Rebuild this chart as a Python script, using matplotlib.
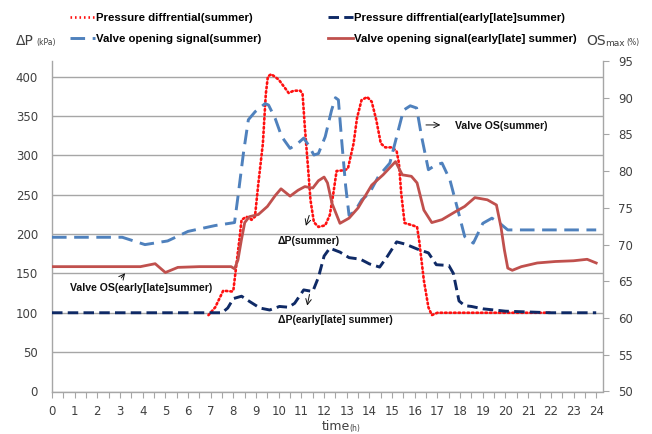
import matplotlib
matplotlib.use("Agg")
import matplotlib.pyplot as plt
from matplotlib.lines import Line2D

# ---- data ----
hours_ticks = list(range(0, 25))
left_ticks = [0, 50, 100, 150, 200, 250, 300, 350, 400]
right_ticks = [50, 55, 60, 65, 70, 75, 80, 85, 90, 95]

# Pressure differential (summer) [kPa]
dp_sum_h = [6.9, 7.2, 7.55, 7.95, 8.0, 8.14, 8.26, 8.36, 8.58, 8.8, 8.95, 9.1, 9.3, 9.43,
            9.52, 9.67, 10.0, 10.44, 10.66, 10.95, 11.05, 11.15, 11.3, 11.4, 11.55, 11.75,
            12.05, 12.25, 12.4, 12.55, 12.9, 13.05, 13.3, 13.45, 13.65, 13.9, 14.1, 14.3,
            14.5, 14.7, 15.0, 15.2, 15.3, 15.4, 15.55, 15.9, 16.1, 16.2, 16.4, 16.6, 16.75,
            17.0, 22.0]
dp_sum_v = [97, 107, 128, 127, 129, 163, 192, 218, 222, 218, 222, 264, 315, 378,
            400, 403, 396, 379, 382, 382, 378, 336, 281, 243, 215, 209,
            211, 224, 250, 280, 281, 283, 315, 347, 370, 374, 368, 345,
            315, 310, 310, 305, 290, 252, 214, 211, 209, 190, 141, 107, 97,
            100, 100]

# Pressure differential (early/late summer) [kPa]
dp_el_h = [0, 7.5, 7.75, 8.0, 8.36, 8.73, 9.17, 9.6, 10.03, 10.43, 10.7, 11.1, 11.5,
           11.75, 12.0, 12.25, 12.7, 13.1, 13.6, 14.0, 14.45, 14.8, 15.2, 15.6, 16.1,
           16.6, 16.95, 17.5, 17.7, 17.95, 18.2, 18.5, 19.0, 20.0, 21.0, 22.0, 24.0]
dp_el_v = [100, 100, 106, 118, 121, 114, 106, 103.5, 108, 107, 112, 129, 127,
           145, 172, 182, 177, 170, 168, 162, 158, 172, 190, 187, 181,
           176, 161, 160, 150, 115, 109, 108, 105, 102, 101, 100, 100]

# Valve opening signal (summer) [%]
os_sum_h = [0, 3.1, 4.1, 5.1, 6.0, 7.2, 8.05, 8.2, 8.44, 8.66, 8.96, 9.4, 9.55, 9.84,
            10.13, 10.5, 10.85, 11.1, 11.3, 11.55, 11.75, 12.05, 12.33, 12.5, 12.63,
            12.78, 12.95, 13.1, 13.35, 13.66, 14.0, 14.4, 14.9, 15.2, 15.5, 15.8, 16.08,
            16.3, 16.6, 16.9, 17.2, 17.55, 17.9, 18.2, 18.58, 19.0, 19.4, 19.75, 20.1, 24.0]
os_sum_v = [71.0, 71.0, 70.0, 70.5, 71.8, 72.6, 73.0, 76.5, 82.4, 87.0, 88.1, 89.2, 89.0, 87.2,
            84.7, 83.1, 83.8, 84.5, 83.6, 82.2, 82.4, 84.7, 88.3, 90.0, 89.7,
            84.0, 78.0, 74.0, 74.5, 76.1, 77.0, 79.3, 81.1, 84.7, 88.3, 88.9, 88.6,
            84.7, 80.2, 80.8, 81.1, 78.8, 74.7, 71.1, 70.2, 72.9, 73.6, 72.9, 72.0, 72.0]

# Valve opening signal (early/late summer) [%]
os_el_h = [0, 3.9, 4.55, 5.0, 5.55, 6.5, 7.9, 8.05, 8.2, 8.35, 8.5, 8.7, 9.1, 9.5, 9.85,
           10.1, 10.5, 10.85, 11.15, 11.5, 11.75, 12.0, 12.15, 12.35, 12.7, 13.1, 13.5,
           14.1, 14.6, 15.15, 15.45, 15.85, 16.1, 16.4, 16.75, 17.2, 17.8, 18.2, 18.65,
           19.2, 19.6, 19.8, 19.95, 20.1, 20.3, 20.7, 21.4, 22.2, 23.0, 23.6, 24.0]
os_el_v = [67.0, 67.0, 67.4, 66.2, 66.9, 67.0, 67.0, 66.7, 67.9, 70.6, 73.0, 73.8, 74.1, 75.2, 76.7,
           77.6, 76.6, 77.4, 77.9, 77.7, 78.7, 79.2, 78.4, 75.6, 72.9, 73.6, 75.0,
           78.1, 79.5, 81.3, 79.5, 79.3, 78.4, 74.7, 73.0, 73.4, 74.5, 75.2, 76.4,
           76.1, 75.4, 72.4, 69.3, 66.8, 66.5, 67.0, 67.5, 67.7, 67.8, 68.0, 67.5]

legend_labels = ["Pressure diffrential(summer)", "Valve opening signal(summer)",
                 "Pressure diffrential(early[late]summer)",
                 "Valve opening signal(early[late] summer)"]

# ---- styles ----
C_RED_DOT = "#FF1010"
C_NAVY = "#0F2A66"
C_LBLUE = "#4F81BD"
C_RED = "#C0504D"
GRID = "#A6A6A6"
TXT = "#404040"
LS_DOT = (0, (0.6, 1.1))
LS_NAVY = (0, (3.6, 1.8))
LS_LBLUE = (0, (5, 2.6))
ANN_FONT = dict(family="Liberation Sans", weight="bold", size=7.6, color="#111111")

fig = plt.figure(figsize=(6.52, 4.34), dpi=100)
W, H = 652, 434
ax = fig.add_axes([52 / W, 1 - 391.5 / H, 551 / W, (391.5 - 61) / H])
ax2 = ax.twinx()

ax.set_xlim(0, 24.3)
ax.set_ylim(0, 419.7)
ax2.set_ylim(50, 95)

ax.plot(dp_sum_h, dp_sum_v, color=C_RED_DOT, lw=1.9, linestyle=LS_DOT,
        dash_capstyle="round", zorder=3)
ax.plot(dp_el_h, dp_el_v, color=C_NAVY, lw=2.1, linestyle=LS_NAVY, zorder=3)
ax2.plot(os_sum_h, os_sum_v, color=C_LBLUE, lw=2.1, linestyle=LS_LBLUE, zorder=3)
ax2.plot(os_el_h, os_el_v, color=C_RED, lw=2.0, zorder=3)

# axes styling
ax.set_yticks(left_ticks)
ax.set_xticks([float(i) for i in hours_ticks])
ax.set_xticks([i * 0.5 for i in range(0, 49)], minor=True)
ax.set_xticklabels([str(h) for h in hours_ticks])
ax2.set_yticks(right_ticks)
for a in (ax, ax2):
    a.spines["top"].set_visible(False)
    for s in ("left", "right", "bottom"):
        a.spines[s].set_color(GRID)
        a.spines[s].set_linewidth(1.0)
ax2.spines["left"].set_visible(False)
ax2.spines["bottom"].set_visible(False)
ax.spines["right"].set_visible(False)

ax.grid(axis="y", color=GRID, lw=1.0)
ax.set_axisbelow(True)
ax.tick_params(axis="y", length=0, pad=10, labelsize=8.5, labelcolor=TXT)
ax.tick_params(axis="x", which="major", length=4, width=0.8, color=GRID, pad=6,
               labelsize=8.5, labelcolor=TXT)
ax.tick_params(axis="x", which="minor", length=4, width=0.8, color=GRID)
ax2.tick_params(axis="y", length=4, width=0.8, color=GRID, pad=7, labelsize=8.5,
                labelcolor=TXT)

# axis titles
fig.text(16 / W, 1 - 41 / H, "ΔP", fontsize=10, color=TXT, va="center", ha="left")
fig.text(36 / W, 1 - 43 / H, "(kPa)", fontsize=5.5, color=TXT, va="center", ha="left")
fig.text(586 / W, 1 - 41 / H, "OS", fontsize=10, color=TXT, va="center", ha="left")
fig.text(605 / W, 1 - 43 / H, "max", fontsize=6.5, color=TXT, va="center", ha="left")
fig.text(626 / W, 1 - 43 / H, "(%)", fontsize=5.5, color=TXT, va="center", ha="left")
fig.text(322 / W, 1 - 427 / H, "time", fontsize=9, color=TXT, va="center", ha="left")
fig.text(349 / W, 1 - 429 / H, "(h)", fontsize=5.5, color=TXT, va="center", ha="left")

# legend (two column blocks)
h1 = Line2D([], [], color=C_RED_DOT, lw=1.9, linestyle=LS_DOT)
h2 = Line2D([], [], color=C_LBLUE, lw=2.1, linestyle=LS_LBLUE)
h3 = Line2D([], [], color=C_NAVY, lw=2.1, linestyle=LS_NAVY)
h4 = Line2D([], [], color=C_RED, lw=2.0)
leg_kw = dict(frameon=False, loc="upper left", borderaxespad=0, borderpad=0,
              handlelength=2.2, handletextpad=0.1, labelspacing=1.0,
              prop=dict(family="Liberation Sans", weight="bold", size=8.2))
l1 = fig.legend([h1, h2], legend_labels[:2], bbox_to_anchor=(70 / W, 1 - 13 / H), **leg_kw)
l2 = fig.legend([h3, h4], legend_labels[2:], bbox_to_anchor=(328 / W, 1 - 13 / H), **leg_kw)

# annotations
arrow = dict(arrowstyle="->", color="#111111", lw=0.7)
ax.annotate("", xy=(17.25, 338.5), xytext=(16.37, 338.5), arrowprops=arrow)
ax.text(17.78, 337, "Valve OS(summer)", va="center", ha="left", **ANN_FONT)
ax.annotate("", xy=(11.16, 207), xytext=(11.38, 227), arrowprops=arrow)
ax.text(9.93, 191.5, "ΔP(summer)", va="center", ha="left", **ANN_FONT)
ax.annotate("", xy=(11.23, 105.6), xytext=(11.38, 126.7), arrowprops=arrow)
ax.text(9.97, 90.8, "ΔP(early[late] summer)", va="center", ha="left", **ANN_FONT)
ax.annotate("", xy=(3.3, 153), xytext=(2.98, 141.5), arrowprops=arrow)
ax.text(0.79, 131, "Valve OS(early[late]summer)", va="center", ha="left", **ANN_FONT)

fig.savefig("out.png", dpi=100)
